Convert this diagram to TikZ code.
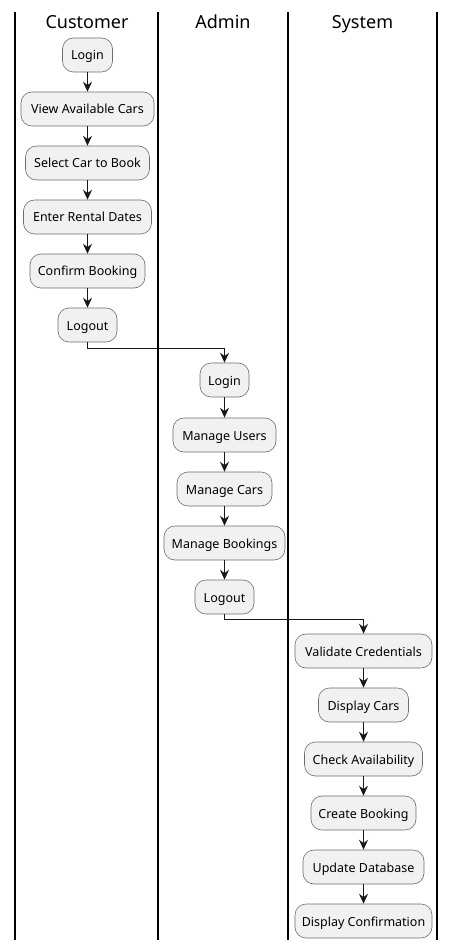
\documentclass[tikz,border=0pt]{standalone}
\usepackage{fontspec}
\setmainfont{Noto Sans}
\usetikzlibrary{arrows.meta}
\definecolor{actfill}{HTML}{F1F1F1}
\definecolor{actdraw}{HTML}{6E6E6E}
\definecolor{ink}{HTML}{181818}
\begin{document}
\begin{tikzpicture}[x=1pt,y=-1pt,
  act/.style={draw=actdraw, fill=actfill, rounded corners=11pt, minimum height=34pt,
    inner xsep=0pt, inner ysep=0pt, text height=12pt, text depth=2pt,
    line width=0.6pt, font=\fontsize{12.5}{14}\selectfont},
  lane/.style={line width=1.4pt, draw=black},
  flow/.style={line width=0.9pt, draw=ink, -{Stealth[length=10pt,width=9pt,inset=3.5pt]}},
  head/.style={font=\fontsize{18}{20}\selectfont, inner sep=0pt, anchor=base}]
\useasboundingbox (0,0) rectangle (456,949);
\fill[white] (0,0) rectangle (456,949);
% swimlane borders
\draw[lane] (15,12) -- (15,940);
\draw[lane] (158,12) -- (158,940);
\draw[lane] (288,12) -- (288,940);
\draw[lane] (437,12) -- (437,940);
% headers
\node[head] (hc) at (87,29) {Customer};
\node[head] (ha) at (223,29) {Admin};
\node[head] (hs) at (362.5,29) {System};
% Customer
\node[act, minimum width=50pt]  (c1) at (87.5,55)  {Login};
\node[act, minimum width=133pt] (c2) at (87.5,109) {View Available Cars};
\node[act, minimum width=124pt] (c3) at (87.5,163) {Select Car to Book};
\node[act, minimum width=128pt] (c4) at (87.5,217) {Enter Rental Dates};
\node[act, minimum width=115pt] (c5) at (87.5,271) {Confirm Booking};
\node[act, minimum width=59pt]  (c6) at (87.5,325) {Logout};
% Admin
\node[act, minimum width=49pt]  (a1) at (224.5,380) {Login};
\node[act, minimum width=103pt] (a2) at (224.5,435) {Manage Users};
\node[act, minimum width=95pt]  (a3) at (224.5,489) {Manage Cars};
\node[act, minimum width=121pt] (a4) at (224.5,543) {Manage Bookings};
\node[act, minimum width=59pt]  (a5) at (224.5,597) {Logout};
% System
\node[act, minimum width=137pt] (s1) at (363.5,651) {Validate Credentials};
\node[act, minimum width=90pt]  (s2) at (363.5,705) {Display Cars};
\node[act, minimum width=118pt] (s3) at (363.5,759) {Check Availability};
\node[act, minimum width=105pt] (s4) at (363.5,813) {Create Booking};
\node[act, minimum width=121pt] (s5) at (363.5,867) {Update Database};
\node[act, minimum width=137pt] (s6) at (363.5,921) {Display Confirmation};
% flows
\draw[flow] (c1) -- (c2);
\draw[flow] (c2) -- (c3);
\draw[flow] (c3) -- (c4);
\draw[flow] (c4) -- (c5);
\draw[flow] (c5) -- (c6);
\draw[flow] (c6.south) -- ++(0,6) -| (a1.north);
\draw[flow] (a1) -- (a2);
\draw[flow] (a2) -- (a3);
\draw[flow] (a3) -- (a4);
\draw[flow] (a4) -- (a5);
\draw[flow] (a5.south) -- ++(0,5) -| (s1.north);
\draw[flow] (s1) -- (s2);
\draw[flow] (s2) -- (s3);
\draw[flow] (s3) -- (s4);
\draw[flow] (s4) -- (s5);
\draw[flow] (s5) -- (s6);
\end{tikzpicture}
\end{document}
